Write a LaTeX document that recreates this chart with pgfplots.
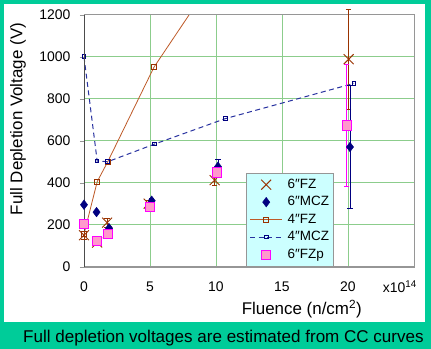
\documentclass[border=0pt]{standalone}
\usepackage{fontspec}
\setmainfont{Liberation Sans}
\usepackage{pgfplots}
\pgfplotsset{compat=1.18}
\definecolor{bgteal}{RGB}{0,204,153}
\definecolor{gridgreen}{RGB}{140,205,140}
\definecolor{legcyan}{RGB}{204,255,255}
\definecolor{fzbrown}{RGB}{153,51,0}
\definecolor{fzline}{RGB}{190,90,40}
\definecolor{mczblue}{RGB}{40,50,160}
\definecolor{navyd}{RGB}{0,0,128}
\definecolor{pinkfill}{RGB}{255,153,204}
\definecolor{magentab}{RGB}{255,0,255}
\definecolor{axgray}{RGB}{150,150,150}
\pgfplotsset{
  legline/.style={legend image code/.code={\draw[mark repeat=2,mark phase=2,##1] plot coordinates {(0bp,0bp) (16bp,0bp) (32bp,0bp)};}},
  common/.style={scale only axis, width=330bp, height=252bp, at={(0,0)}, anchor=south west,
    xmin=0, xmax=25, ymin=0, ymax=1200},
  fzstyle/.style={only marks, mark=x, mark size=7bp, color=fzbrown, line width=0.9bp, legline},
  mczstyle/.style={only marks, mark=diamond*, mark size=4.8bp, color=navyd, legline},
  fourfz/.style={color=fzline, line width=0.8bp, mark=square, mark size=2.5bp, mark options={fzbrown, solid}, legline},
  fourmcz/.style={color=mczblue, line width=1bp, dash pattern=on 5bp off 3.5bp, mark=square, mark size=1.8bp, mark options={navyd, solid}, legline},
  fzpstyle/.style={only marks, mark=square*, mark size=4.6bp, mark options={fill=pinkfill, draw=magentab, line width=0.9bp}, color=magentab, legline},
}
\begin{document}
\begin{tikzpicture}
\useasboundingbox (-84bp,-82.3bp) rectangle (347bp,266.7bp);
\clip (-84bp,-82.3bp) rectangle (347bp,266.7bp);
\fill[bgteal] (-84bp,-82.3bp) rectangle (347bp,266.7bp);
\fill[white] (-80bp,-55bp) rectangle (341bp,263bp);
\node[anchor=west, font=\fontsize{17.1}{20}\selectfont, inner sep=0pt] at (-61bp,-71.3bp) {Full depletion voltages are estimated from CC curves};

\begin{axis}[common, clip=true,
  axis line style={axgray},
  xtick={0,5,10,15,20}, ytick={0,200,...,1200},
  grid=major, major grid style={gridgreen, line width=0.8bp},
  tick label style={font=\fontsize{14}{16}\selectfont, black},
  /pgf/number format/assume math mode=true,
  /pgf/number format/1000 sep={},
  xtick style={draw=none}, ytick style={axgray},
  tick align=outside, ytick pos=left, xtick pos=bottom,
  major tick length=4bp,
  xticklabel style={yshift=-8bp},
  yticklabel style={xshift=-6bp},
  xlabel={Fluence (n/cm\textsuperscript{2})},
  ylabel={Full Depletion Voltage (V)},
  label style={font=\fontsize{17}{20}\selectfont},
  xlabel style={at={(axis description cs:0.66,-0.168)}, anchor=center},
  ylabel style={at={(axis description cs:-0.2,0.586)}, anchor=center},
]
\addplot[fourfz] coordinates {(0,155) (1,405) (1.8,500) (5.3,950) (10,1390)};
\addplot[fourmcz] coordinates {(0,1000) (1,503) (1.8,500) (5.35,584) (10.7,705) (20.45,873)};
\end{axis}

\begin{axis}[common, clip=false, hide axis,
  legend style={at={(axis description cs:0.491,0.372)}, anchor=north west,
    fill=legcyan, draw=axgray, inner sep=3.5bp, row sep=1.5bp,
    font=\fontsize{13.5}{15}\selectfont,
    nodes={inner xsep=1bp, inner ysep=1.5bp, text height=10bp, text depth=3bp},
    /tikz/every odd column/.append style={column sep=4bp}},
  legend cell align=left,
]
\draw[axgray, line width=0.8bp] (rel axis cs:0,0) rectangle (rel axis cs:1,1);
\draw[black!70, line width=0.9bp] (rel axis cs:0,0) -- (rel axis cs:0,1);
\addplot[fzstyle, error bars/.cd, y dir=both, y explicit,
  error bar style={fzbrown, line width=0.9bp, solid}, error mark options={fzbrown, mark size=2.7bp, rotate=90}]
  coordinates {(0,150) +- (0,20) (1,115) +- (0,15) (1.75,210) +- (0,20) (4.9,300) +- (0,15) (9.9,412) +- (0,25) (20.05,988) +- (0,237)};
\addlegendentry{6″FZ}
\addplot[mczstyle, error bars/.cd, y dir=both, y explicit,
  error bar style={navyd, line width=0.9bp, solid}, error mark options={navyd, mark size=2.7bp, rotate=90}]
  coordinates {(0,295) (0.95,260) (1.9,183) (5.13,314) +- (0,10) (10.15,476) +- (0,35) (20.15,570) +- (0,293)};
\addlegendentry{6″MCZ}
\addlegendimage{fourfz}
\addlegendentry{4″FZ}
\addlegendimage{fourmcz}
\addlegendentry{4″MCZ}
\addplot[fzpstyle, error bars/.cd, y dir=both, y explicit,
  error bar style={magentab, line width=1.6bp, solid}, error mark options={magentab, mark size=2.7bp, rotate=90, line width=0.9bp}]
  coordinates {(0,205) (1,122) (1.8,156) (5,283) (10.05,449) (19.9,673) +- (0,291)};
\addlegendentry{6″FZp}
\node[anchor=base west, font=\fontsize{14}{16}\selectfont, inner sep=0pt] at (axis description cs:0.905,-0.104) {x10\textsuperscript{14}};
\end{axis}
\end{tikzpicture}
\end{document}
